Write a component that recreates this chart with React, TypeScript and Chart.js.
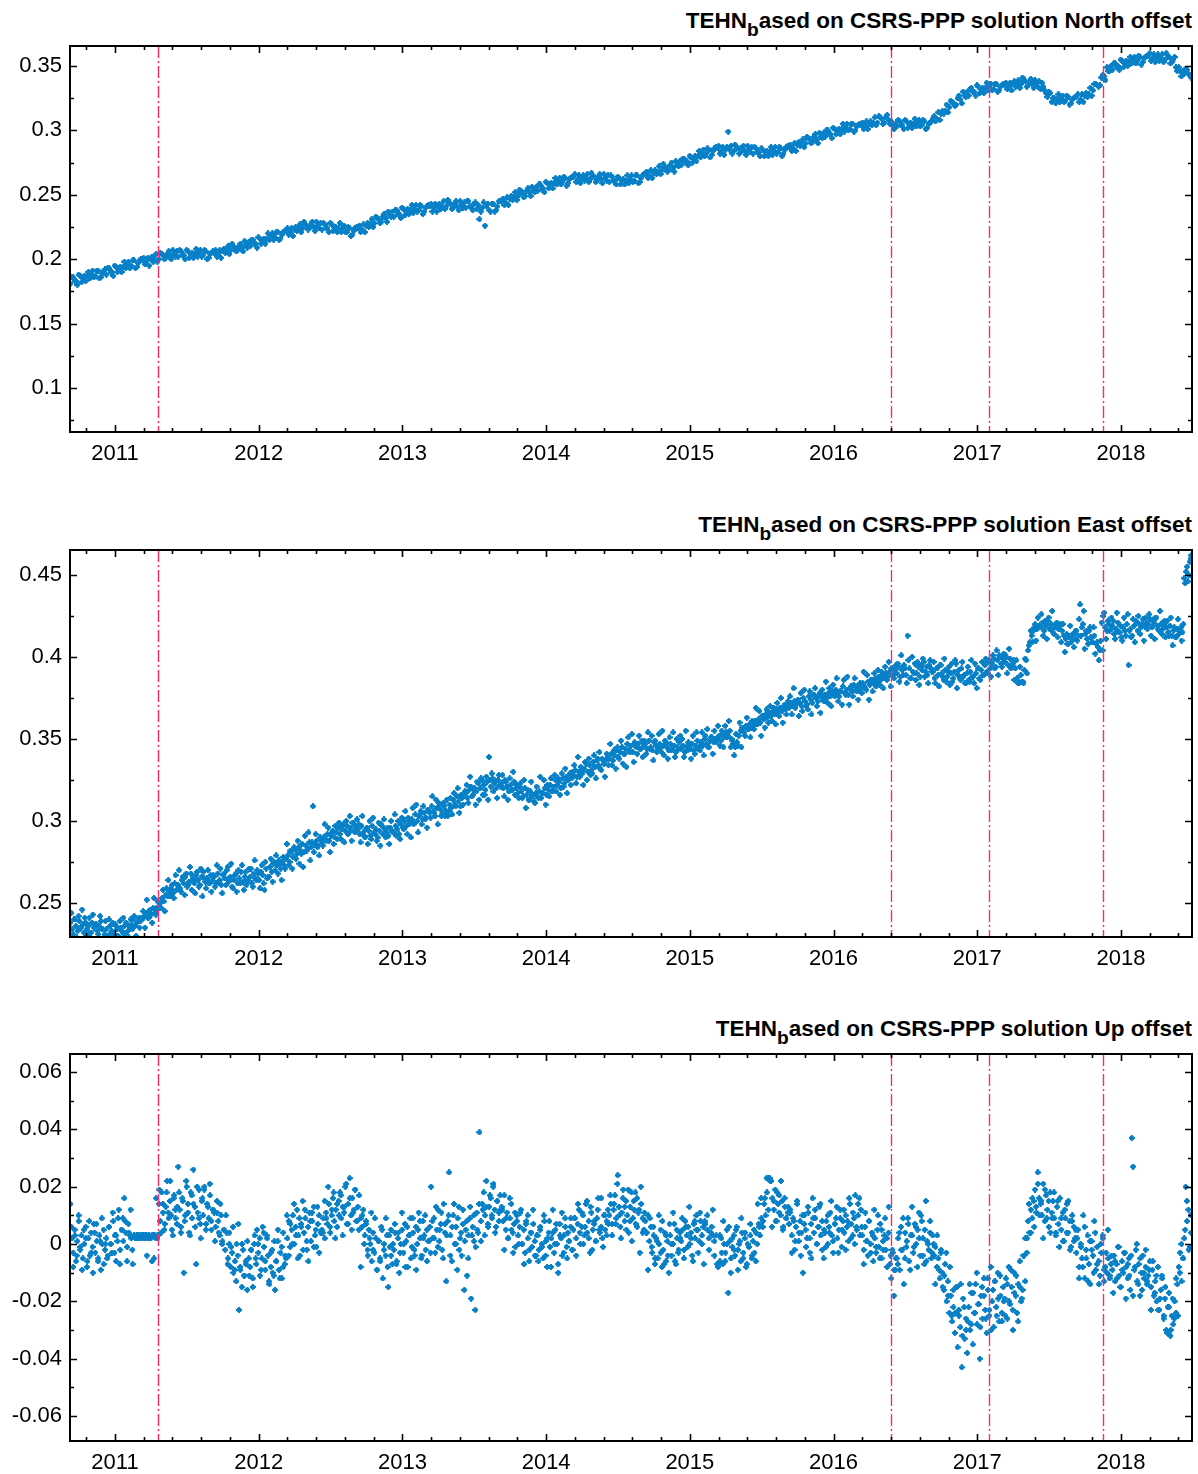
import React, { useEffect, useRef } from "react";
import { Chart, registerables } from "chart.js";

Chart.register(...registerables);

// ---------- axis / annotation data ----------
const X_MIN = 2010.687;
const X_MAX = 2018.494;
const YEAR_TICKS = [2011, 2012, 2013, 2014, 2015, 2016, 2017, 2018];
const EVENT_YEARS = [2011.3, 2016.4, 2017.08, 2017.875];
const START_YEAR = 2010.69; // first epoch of the series

const NORTH_TICKS = [0.1, 0.15, 0.2, 0.25, 0.3, 0.35];
const EAST_TICKS = [0.25, 0.3, 0.35, 0.4, 0.45];
const UP_TICKS = [-0.06, -0.04, -0.02, 0, 0.02, 0.04, 0.06];

type Rows = (number | null)[][];

// ---------- series values (millimetres), one row per quarter-year ----------
// North: 13 epochs per quarter
const NORTH_MM: Rows = [
  [181,186,183,188,182,187,187,185,191,187,191,186,191],
  [188,193,190,195,190,194,194,193,198,195,199,194,199],
  [199,196,201,200,198,204,200,204,200,204,203,207,202],
  [202,206,203,207,201,205,204,202,207,203,206,201,205],
  [205,202,207,206,205,210,207,210,206,210,209,214,209],
  [210,215,212,217,212,216,216,215,220,217,221,216,221],
  [222,219,224,223,222,227,224,227,223,227,225,229,224],
  [223,227,224,228,222,225,224,221,226,221,224,219,224],
  [224,221,227,226,225,231,228,232,228,233,232,237,233],
  [233,238,235,240,234,239,238,236,242,238,241,237,241],
  [241,237,243,241,239,245,241,244,239,243,241,245,240],
  [240,245,240,243,239,231,240,226,243,237,243,238,245],
  [245,242,248,247,246,252,249,252,248,253,252,256,252],
  [253,258,255,260,255,259,259,258,263,260,263,259,263],
  [264,260,265,263,261,266,262,265,260,264,262,266,261],
  [260,264,261,264,258,262,261,259,265,261,265,260,265],
  [266,263,269,267,266,272,269,272,268,273,271,276,272],
  [273,278,276,280,275,280,280,279,285,282,285,281,286],
  [286,282,287,285,299,288,284,287,282,286,284,288,283],
  [282,286,283,286,280,284,283,281,287,283,286,282,287],
  [287,284,290,289,288,293,290,294,290,295,293,298,294],
  [295,300,297,302,297,301,301,299,305,301,305,300,304],
  [304,301,307,305,304,310,306,310,305,310,308,307,301],
  [303,307,304,308,302,306,305,303,308,304,307,302,306],
  [309,307,314,313,313,320,318,322,319,325,324,330,326],
  [327,333,330,335,329,333,333,331,336,332,336,331,335],
  [335,332,337,336,334,339,336,339,334,338,336,339,334],
  [332,334,329,330,322,325,324,322,327,323,326,321,325],
  [326,322,328,327,326,333,331,336,334,341,342,349,346],
  [347,352,350,355,349,354,353,352,357,354,357,353,357],
  [358,354,359,357,354,359,355,358,352,355,349,349,342],
  [344,347,343],
];

// North, second set of epochs (13 per quarter, half a step later)
const NORTH_B_MM: Rows = [
  [186,183,180,187,185,183,190,188,186,191,185,189,192],
  [193,190,187,194,193,190,198,196,193,199,193,197,200],
  [201,198,195,202,200,198,205,203,201,206,200,204,206],
  [207,203,200,206,204,201,208,205,202,207,200,204,206],
  [207,204,201,208,207,204,212,209,207,212,206,211,213],
  [215,212,209,216,215,212,220,218,215,221,215,219,222],
  [224,221,218,225,224,221,229,226,224,229,222,226,228],
  [228,224,221,227,225,221,228,224,221,225,218,222,225],
  [226,223,221,228,227,225,233,231,229,235,229,234,237],
  [238,235,232,239,237,235,242,239,237,242,235,240,242],
  [243,240,237,243,241,239,246,243,240,245,238,242,244],
  [245,241,238,244,242,237,244,241,238,243,237,241,245],
  [247,244,242,249,248,246,254,251,249,255,249,253,256],
  [258,255,252,259,258,255,263,261,258,264,257,262,264],
  [266,262,259,265,263,260,267,264,261,266,259,263,265],
  [265,261,258,263,261,258,265,262,260,265,259,263,266],
  [268,265,263,269,268,266,274,271,269,275,268,273,276],
  [278,275,273,279,278,276,284,282,280,286,279,284,287],
  [288,284,281,287,285,282,289,286,283,288,281,285,287],
  [287,283,280,285,283,280,287,284,282,287,280,285,288],
  [289,286,284,291,290,287,295,293,291,297,290,295,298],
  [300,297,294,301,300,297,305,302,300,305,299,303,305],
  [306,303,301,307,306,304,311,309,306,312,305,304,305],
  [308,304,301,307,305,302,309,306,303,308,301,305,307],
  [311,309,308,315,315,314,323,321,320,327,321,327,330],
  [332,330,327,334,332,329,337,334,331,336,330,334,336],
  [337,334,331,338,336,333,341,338,335,340,333,336,338],
  [337,331,326,329,325,321,328,325,322,327,320,324,326],
  [328,324,322,329,328,327,336,335,335,343,339,346,350],
  [352,349,347,354,352,350,357,355,352,358,351,356,358],
  [360,356,353,359,356,353,360,357,353,357,346,346,346],
  [348,344,341],
];

// East: 20 epochs per quarter
const EAST_MM: Rows = [
  [238,234,240,236,233,239,235,237,241,234,236,232,238,235,237,233,236,239,234,231],
  [234,230,236,233,231,237,234,229,235,232,236,238,233,235,237,240,236,238,241,239],
  [240,242,244,241,245,243,247,244,246,248,250,253,251,255,254,257,259,256,262,258],
  [261,259,264,262,266,260,263,268,265,262,267,264,261,266,269,263,265,262,267,264],
  [266,262,268,264,261,267,265,270,263,266,260,264,268,262,265,269,263,266,261,264],
  [266,262,268,265,270,264,269,267,258,271,266,272,269,274,270,273,276,271,275,273],
  [277,279,275,281,278,283,280,284,282,286,281,285,283,287,284,309,286,288,285,290],
  [287,290,289,292,288,291,294,290,293,296,292,295,298,294,297,293,296,299,294,297],
  [295,292,297,293,290,296,294,291,297,293,295,290,294,298,292,295,293,291,296,294],
  [293,297,295,292,298,296,300,297,302,299,301,298,304,300,303,306,301,305,302,307],
  [305,309,306,303,308,311,307,304,309,306,303,310,308,313,310,315,312,309,314,316],
  [317,314,319,321,316,320,318,323,320,325,322,319,324,339,321,326,323,320,325,322],
  [323,320,325,321,318,322,319,324,320,317,321,318,315,320,316,313,318,315,312,317],
  [315,318,314,317,320,316,319,322,318,321,325,322,324,320,326,323,327,325,329,326],
  [328,331,327,330,333,329,332,335,330,334,331,336,333,337,334,332,338,335,337,339],
  [338,341,337,340,343,339,342,345,341,344,347,343,346,342,348,345,347,344,349,346],
  [347,344,349,345,343,348,346,344,347,342,346,349,345,343,347,344,346,342,345,348],
  [344,346,342,345,348,344,347,343,346,349,345,348,346,350,347,345,349,351,348,350],
  [350,352,349,353,351,354,352,355,350,347,345,348,352,355,357,354,358,356,359,357],
  [358,361,359,362,360,364,362,365,363,366,364,367,365,368,366,369,367,370,368,371],
  [369,372,370,373,371,374,372,370,375,373,371,376,374,372,377,375,373,378,376,374],
  [377,375,378,376,379,377,380,378,376,379,382,378,380,377,381,379,383,380,382,379],
  [381,384,382,380,385,383,386,384,387,385,388,386,389,387,390,388,391,393,389,392],
  [390,394,388,392,395,389,413,393,387,391,396,390,394,388,392,397,391,389,395,393],
  [391,387,393,389,395,390,386,392,388,394,390,385,391,396,389,387,393,388,384,390],
  [386,391,388,384,390,393,387,392,389,395,391,397,393,396,399,394,398,401,396,399],
  [397,400,395,399,394,398,393,387,384,389,385,392,398,404,409,413,416,420,417,419],
  [418,421,416,419,422,417,420,415,418,421,417,420,416,413,411,408,412,409,414,411],
  [416,413,432,418,428,414,411,416,412,409,413,408,406,404,421,425,418,416,420,417],
  [419,414,417,421,415,412,418,416,420,395,417,413,419,422,416,420,418,423,419,421],
  [420,423,418,421,424,419,416,420,417,422,418,415,419,413,416,412,417,414,418,415],
  [448,452,446,458,462],
];

// East, second set of epochs (20 per quarter, half a step later)
const EAST_B_MM: Rows = [
  [244,231,240,229,242,235,246,232,238,230,241,232,243,226,237,231,242,234,229,239],
  [229,240,232,238,226,236,230,239,233,241,231,237,229,240,234,242,230,239,235,241],
  [245,235,252,241,246,238,253,243,251,247,247,258,245,259,264,254,261,253,267,261],
  [270,257,266,255,268,261,272,258,264,256,269,260,271,254,265,259,270,262,257,267],
  [260,273,263,271,256,268,261,272,264,274,259,267,257,270,262,273,258,269,263,271],
  [271,260,276,264,268,259,273,262,275,265,266,277,263,275,279,268,274,264,278,271],
  [286,273,282,271,284,277,288,274,280,272,291,282,293,276,287,281,292,284,279,289],
  [285,298,288,296,281,293,286,297,289,299,289,297,287,300,292,303,288,299,293,301],
  [298,287,303,291,295,286,300,289,302,292,288,299,285,297,301,290,296,286,300,293],
  [304,291,300,289,302,295,306,292,298,290,308,299,310,293,304,298,309,301,296,306],
  [302,315,305,313,298,310,303,311,303,313,306,314,304,317,309,320,305,316,310,318],
  [322,311,327,315,319,310,324,313,326,316,316,327,313,325,329,318,324,314,328,321],
  [328,315,324,313,326,319,330,316,322,314,323,314,325,308,319,313,324,316,311,321],
  [314,327,317,325,310,322,315,326,318,328,318,326,316,329,321,332,317,328,322,330],
  [334,323,339,327,331,322,336,325,338,328,329,340,326,338,342,331,337,327,341,334],
  [347,334,343,332,345,338,349,335,341,333,351,342,353,336,347,341,352,344,339,349],
  [341,354,344,352,337,349,342,353,345,355,340,348,338,351,343,354,339,350,344,352],
  [350,339,355,343,347,338,352,341,354,344,343,354,340,352,356,345,351,341,355,348],
  [358,346,355,345,358,351,361,345,349,340,353,346,360,345,357,352,363,356,351,361],
  [356,369,359,367,352,364,357,368,360,370,361,369,359,372,364,375,360,371,365,373],
  [376,365,381,369,373,364,378,367,380,370,368,379,365,377,381,370,376,366,380,373],
  [385,372,381,370,383,376,387,373,379,371,386,377,388,371,382,376,387,379,374,384],
  [378,391,381,389,374,386,379,390,382,392,383,391,381,394,386,397,382,393,387,395],
  [396,385,401,389,393,384,398,387,400,390,386,397,383,395,399,388,394,384,398,391],
  [397,384,393,382,395,388,399,385,391,383,396,387,398,381,392,386,397,389,384,394],
  [385,398,388,396,381,393,386,397,389,399,390,398,388,401,393,404,389,400,394,402],
  [401,390,405,393,396,386,398,384,394,385,384,399,390,407,416,409,418,410,424,418],
  [426,413,422,411,424,417,428,414,420,412,418,409,420,403,414,408,419,411,406,416],
  [410,423,413,420,405,416,408,418,409,418,402,409,398,410,404,427,411,422,416,424],
  [422,411,427,415,419,410,424,413,426,416,412,423,409,421,425,414,420,410,424,417],
  [426,413,422,411,424,417,428,414,420,412,422,413,424,407,418,412,423,415,410,420],
  [445,455,450,460,449],
];

// Up: 26 epochs per quarter
const UP_MM: Rows = [
  [14,2,-3,5,-6,1,8,-2,3,-5,0,6,-8,2,-4,4,-1,7,-3,1,-6,3,-9,0,5,-2],
  [2,-4,6,0,-3,8,3,-6,1,12,-2,5,9,16,4,-1,7,3,2,-7,3,2,3,2,3,2],
  [3,2,3,3,2,3,2,-6,3,3,16,2,14,8,18,11,5,13,22,9,15,10,3,17,12,7],
  [27,12,6,16,-10,10,20,14,4,18,9,26,13,-7,11,19,7,15,10,20,5,14,9,17,8,12],
  [11,6,15,8,3,10,1,5,-2,4,-5,0,-8,-3,-10,-6,-13,-4,-23,-9,-15,-2,-11,-7,-16,-5],
  [-8,-2,-12,0,-5,5,-3,2,-9,6,-1,-6,3,-4,-14,-8,-2,-11,-16,-6,1,-9,-3,-12,4,-7],
  [-5,2,8,-1,5,10,0,6,12,3,-4,7,15,4,9,-2,6,11,1,8,13,3,-1,7,10,4],
  [5,9,2,11,7,14,4,10,16,8,12,6,15,18,9,13,11,20,7,14,23,10,16,12,19,8],
  [13,17,9,6,12,3,8,-2,5,0,-6,4,-3,2,-9,1,-5,6,-12,0,-4,3,-15,-1,5,-7],
  [-2,4,-6,2,-10,0,5,-3,7,1,-8,3,9,-1,4,-4,6,0,11,2,-5,8,3,-2,5,1],
  [6,20,2,9,-3,5,12,1,7,-2,14,4,-13,8,25,3,-6,10,0,6,-9,13,2,-4,7,-16],
  [5,-11,3,9,-19,6,1,-23,11,4,39,8,14,18,10,22,7,13,16,9,20,12,6,15,11,17],
  [13,8,17,5,11,2,9,14,4,7,-1,10,3,6,12,0,5,-3,8,2,-6,4,-1,7,1,-4],
  [3,-2,6,0,-5,8,1,-8,4,-1,2,12,-3,5,0,-10,7,2,-4,3,9,-1,4,1,6,-2],
  [5,9,2,7,12,0,6,10,3,14,4,8,-3,11,5,7,1,9,16,4,6,2,10,5,8,12],
  [10,14,7,12,17,9,24,13,6,11,19,8,15,10,4,13,18,9,12,7,16,11,-3,14,9,5],
  [8,4,10,1,6,-3,3,-7,2,-5,0,5,-8,-2,4,-6,1,-10,3,-4,0,7,-7,2,-3,4],
  [1,5,-2,8,3,6,0,4,-4,7,2,10,5,1,8,3,6,8,null,5,2,null,6,3,1,null],
  [-7,-7,-6,2,-7,0,-3,5,-17,1,-5,-1,3,-4,6,-2,0,-6,4,-3,2,-8,0,-1,3,-5],
  [1,-3,4,0,7,3,9,6,14,10,18,23,23,22,16,12,19,8,14,17,10,15,6,13,9,11],
  [7,12,3,9,-2,6,14,1,8,4,-10,10,5,2,11,-3,7,16,4,9,0,6,13,3,8,-5],
  [4,8,0,6,11,3,-3,7,9,2,5,12,-1,8,4,10,6,1,14,7,3,9,17,5,10,16],
  [12,3,-2,6,1,-4,8,0,4,-6,2,-3,5,-1,7,-5,1,3,-2,-8,4,-7,-12,-3,-18,-9],
  [-5,2,-9,6,-2,-14,4,-1,9,-6,3,13,-3,7,0,5,11,-4,8,2,-7,15,1,-2,4,-5],
  [3,-4,-1,-8,-5,-12,-2,-10,-16,-7,-20,-13,-24,-18,-27,-22,-31,-15,-36,-25,-29,-43,-19,-33,-26,-38],
  [-22,-30,-17,-35,-24,-14,-28,-21,-40,-18,-26,-12,-23,-31,-16,-25,-8,-20,-29,-13,-22,-10,-27,-18,-24,-15],
  [-19,-12,-26,-8,-21,-15,-30,-10,-18,-24,-14,-6,-20,-16,-4,2,-3,8,4,12,9,15,19,11,25,16],
  [14,10,21,8,17,12,6,18,11,15,9,3,13,7,16,5,11,1,9,14,4,8,-1,10,6,2],
  [-3,5,-8,0,-5,10,-12,-2,3,-7,-14,1,-4,8,-9,-1,-6,-11,-3,2,-13,-8,-10,-5,-12,-7],
  [-9,-4,-13,-7,-1,-11,-15,-6,-10,-3,-8,-12,-5,-16,37,27,-9,-2,-13,-7,-18,-10,-4,-12,-8,-14],
  [-11,-6,-15,-9,-18,-13,-20,-8,-23,-16,-12,-26,-19,-30,-22,-17,-32,-25,-28,-20,-24,-14,-8,-3,0,-5],
  [2,20,8,12,-1,4],
];

// Up, second set of epochs (20 per quarter, half a step later)
const UP_B_MM: Rows = [
  [6,-8,3,-4,10,-1,-9,5,2,-6,8,-3,-10,4,7,-5,1,9,-7,0],
  [-5,6,0,11,-3,3,9,-7,5,1,8,-6,4,12,-2,3,2,3,2,3],
  [3,2,-4,3,2,3,-5,2,3,19,4,14,7,18,11,22,5,16,9,13],
  [18,4,15,8,22,11,3,17,14,6,20,9,2,16,19,7,13,21,5,12],
  [1,11,4,14,0,5,10,-7,4,-1,6,-9,0,7,-8,0,-11,-6,1,-11],
  [-2,-15,3,-7,0,-11,-5,4,-9,2,-13,-3,-10,1,-6,5,-12,-1,-8,-4],
  [10,-4,7,0,14,3,-5,9,6,-2,12,1,-6,8,11,-1,5,13,-3,4],
  [4,15,9,20,6,12,18,2,14,10,17,3,13,21,7,16,5,11,19,8],
  [5,-8,10,0,7,-4,2,11,-2,9,-9,1,-6,5,-2,9,-8,3,-4,0],
  [7,-7,4,-3,11,0,-8,6,3,-5,9,-2,-9,5,8,-4,2,10,-6,1],
  [-3,8,2,13,-1,5,11,-5,7,3,10,-4,6,14,0,9,-2,4,12,1],
  [8,-5,13,3,10,-1,5,14,1,12,3,13,6,17,10,21,4,15,8,12],
  [12,-2,9,2,16,5,-3,11,8,0,11,0,-7,7,10,-2,4,12,-4,3],
  [-6,5,-1,10,-4,2,8,-8,4,0,7,-7,3,11,-3,6,-5,1,9,-2],
  [9,-4,14,4,11,0,6,15,2,13,-2,8,1,12,5,16,-1,10,3,7],
  [17,3,14,7,21,10,2,16,13,5,19,8,1,15,18,6,12,20,4,11],
  [4,-9,9,-1,6,-5,1,10,-3,8,-7,3,-4,7,0,11,-6,5,-2,2],
  [9,-5,6,-1,13,2,-6,8,5,-3,11,0,-7,7,10,-2,4,12,-4,3],
  [-8,3,-3,8,-6,0,6,-10,2,-2,5,-9,1,9,-5,4,-7,-1,7,-4],
  [5,-6,14,6,16,8,16,23,12,22,6,15,8,18,11,22,5,16,9,13],
  [11,-3,8,1,15,4,-4,10,7,-1,13,2,-5,9,12,0,6,14,-2,5],
  [-1,10,4,15,1,7,13,-3,9,5,12,-2,8,16,2,11,0,6,14,3],
  [6,-7,11,1,8,-3,3,12,-1,10,-5,5,-2,9,2,13,-4,-2,-9,-5],
  [-7,4,-2,9,-5,1,7,-9,3,-1,6,-8,2,10,-4,5,-6,0,8,-3],
  [0,-14,3,-9,-3,-15,-11,-3,-18,-8,-25,-16,-24,-15,-23,-14,-32,-22,-30,-27],
  [-14,-28,-17,-24,-10,-21,-29,-15,-18,-26,-12,-23,-30,-16,-13,-25,-19,-11,-27,-20],
  [-25,-14,-20,-9,-23,-17,-11,-27,-15,-19,-4,-13,2,14,4,16,6,13,21,10],
  [15,2,19,9,15,4,9,18,4,15,-1,9,1,12,4,15,-2,8,1,5],
  [2,-12,-1,-8,6,-5,-13,1,-2,-10,4,-7,-14,0,3,-9,-3,5,-11,-4],
  [-17,-6,-12,-1,-15,-9,-3,-19,-7,-11,-4,-18,-8,0,-14,-5,-16,-10,-2,-13],
  [-9,-23,-6,-17,-11,-23,-19,-11,-25,-15,-31,-22,-30,-19,-26,-12,-25,-10,-13,-5],
  [5,15,-2,10],
];

// ---------- styling ----------
const BLUE = "#0880c8";
const RED = "#ff2a68";
const FONT_FAMILY = "'Liberation Sans', Arial, Helvetica, sans-serif";

type Series = { rows: Rows; perQuarter: number; offset: number };
type PanelDef = {
  component: string;
  series: Series[];
  yMin: number;
  yMax: number;
  yTicks: number[];
  plotTop: number;
  plotBottom: number;
};

const PANELS: PanelDef[] = [
  {
    component: "North",
    series: [
      { rows: NORTH_MM, perQuarter: 13, offset: 0 },
      { rows: NORTH_B_MM, perQuarter: 13, offset: 0.5 },
    ],
    yMin: 0.0658, yMax: 0.3655, yTicks: NORTH_TICKS, plotTop: 46, plotBottom: 432,
  },
  {
    component: "East",
    series: [
      { rows: EAST_MM, perQuarter: 20, offset: 0 },
      { rows: EAST_B_MM, perQuarter: 20, offset: 0.5 },
    ],
    yMin: 0.2293, yMax: 0.4652, yTicks: EAST_TICKS, plotTop: 550, plotBottom: 937,
  },
  {
    component: "Up",
    series: [
      { rows: UP_MM, perQuarter: 26, offset: 0 },
      { rows: UP_B_MM, perQuarter: 20, offset: 0.5 },
    ],
    yMin: -0.0687, yMax: 0.0663, yTicks: UP_TICKS, plotTop: 1054, plotBottom: 1441,
  },
];

const PAD_TOP = 10;
const X_AXIS_H = 40;
const Y_AXIS_W = 70;

function toPoints(s: Series) {
  const pts: { x: number; y: number }[] = [];
  s.rows.forEach((row, r) => {
    row.forEach((v, i) => {
      if (v === null) return;
      pts.push({ x: START_YEAR + r * 0.25 + ((i + s.offset) * 0.25) / s.perQuarter, y: v / 1000 });
    });
  });
  return pts;
}

function makeMarker(): HTMLCanvasElement {
  const c = document.createElement("canvas");
  c.width = 6;
  c.height = 6;
  const g = c.getContext("2d")!;
  g.fillStyle = BLUE;
  g.fillRect(2, 0, 2, 6);
  g.fillRect(0, 2, 6, 2);
  g.fillRect(1, 1, 4, 4);
  return c;
}

function fmt(v: number) {
  return String(+v.toFixed(3));
}

const decorPlugin = {
  id: "decor",
  afterDatasetsDraw(chart: any) {
    const { ctx, chartArea: a, scales } = chart;
    const x = scales.x;
    ctx.save();
    ctx.strokeStyle = RED;
    ctx.lineWidth = 1.4;
    ctx.setLineDash([12, 3, 2, 3]);
    EVENT_YEARS.forEach((yr) => {
      const px = Math.round(x.getPixelForValue(yr)) + 0.5;
      ctx.beginPath();
      ctx.moveTo(px, a.top);
      ctx.lineTo(px, a.bottom);
      ctx.stroke();
    });
    ctx.restore();
  },
  afterDraw(chart: any) {
    const { ctx, chartArea: a, scales } = chart;
    const x = scales.x;
    const y = scales.y;
    ctx.save();
    ctx.strokeStyle = "#000";
    ctx.lineWidth = 1.6;
    const drawX = (val: number, len: number) => {
      const px = Math.round(x.getPixelForValue(val)) + 0.5;
      if (px < a.left || px > a.right) return;
      ctx.beginPath();
      ctx.moveTo(px, a.bottom);
      ctx.lineTo(px, a.bottom - len);
      ctx.moveTo(px, a.top);
      ctx.lineTo(px, a.top + len);
      ctx.stroke();
    };
    for (let k = Math.ceil(X_MIN * 5); k <= Math.floor(X_MAX * 5); k++) {
      drawX(k / 5, k % 5 === 0 ? 7 : 4);
    }
    const yt: number[] = chart.options.plugins.decor.yTicks;
    const step = yt[1] - yt[0];
    const drawY = (val: number, len: number) => {
      const py = Math.round(y.getPixelForValue(val)) + 0.5;
      if (py < a.top || py > a.bottom) return;
      ctx.beginPath();
      ctx.moveTo(a.left, py);
      ctx.lineTo(a.left + len, py);
      ctx.moveTo(a.right, py);
      ctx.lineTo(a.right - len, py);
      ctx.stroke();
    };
    yt.forEach((t) => drawY(t, 7));
    for (let t = yt[0] - step / 2; t <= yt[yt.length - 1] + step / 2 + 1e-9; t += step) {
      drawY(t, 4);
    }
    ctx.lineWidth = 2;
    ctx.strokeRect(a.left, a.top, a.right - a.left, a.bottom - a.top);
    ctx.restore();
  },
};

function Panel({ def }: { def: PanelDef }) {
  const ref = useRef<HTMLCanvasElement | null>(null);
  const top = def.plotTop - PAD_TOP;
  const height = def.plotBottom + X_AXIS_H - top;

  useEffect(() => {
    if (!ref.current) return;
    const marker = makeMarker();
    const tickFont = { family: FONT_FAMILY, size: 22 };
    const chart = new Chart(ref.current, {
      type: "scatter",
      data: {
        datasets: def.series.map((s) => ({
          data: toPoints(s),
          pointStyle: marker as any,
          pointRadius: 3,
          pointHoverRadius: 3,
          backgroundColor: BLUE,
          borderColor: BLUE,
          borderWidth: 0,
        })),
      },
      options: {
        animation: false,
        responsive: false,
        events: [],
        layout: { padding: { top: PAD_TOP, right: 6, left: 0, bottom: 0 } },
        plugins: {
          legend: { display: false },
          tooltip: { enabled: false },
          title: { display: false },
          decor: { yTicks: def.yTicks },
        } as any,
        scales: {
          x: {
            type: "linear",
            min: X_MIN,
            max: X_MAX,
            grid: { display: false, drawTicks: false },
            border: { display: false },
            ticks: {
              font: tickFont,
              color: "#000",
              padding: 9,
              maxRotation: 0,
              autoSkip: false,
              callback: (v: any) => String(v),
            },
            afterBuildTicks: (s: any) => {
              s.ticks = YEAR_TICKS.map((v) => ({ value: v }));
            },
            afterFit: (s: any) => {
              s.height = X_AXIS_H;
              s.paddingLeft = 0;
              s.paddingRight = 0;
            },
          },
          y: {
            type: "linear",
            min: def.yMin,
            max: def.yMax,
            grid: { display: false, drawTicks: false },
            border: { display: false },
            ticks: {
              font: tickFont,
              color: "#000",
              padding: 8,
              autoSkip: false,
              callback: (v: any) => fmt(Number(v)),
            },
            afterBuildTicks: (s: any) => {
              s.ticks = def.yTicks.map((v) => ({ value: v }));
            },
            afterFit: (s: any) => {
              s.width = Y_AXIS_W;
              s.paddingTop = 0;
              s.paddingBottom = 0;
            },
          },
        },
      } as any,
      plugins: [decorPlugin as any],
    });
    return () => chart.destroy();
  }, [def]);

  return (
    <>
      <div
        style={{
          position: "absolute",
          right: 6,
          top: def.plotTop - 36,
          fontFamily: FONT_FAMILY,
          fontWeight: "bold",
          fontSize: 22.5,
          lineHeight: "22px",
          whiteSpace: "nowrap",
          color: "#000",
        }}
      >
        TEHN
        <span style={{ fontSize: "0.85em", position: "relative", top: "0.42em", lineHeight: 0 }}>b</span>
        {`ased on CSRS-PPP solution ${def.component} offset`}
      </div>
      <canvas
        ref={ref}
        width={1198}
        height={height}
        style={{ position: "absolute", left: 0, top, width: 1198, height }}
      />
    </>
  );
}

export default function App() {
  return (
    <div style={{ position: "absolute", left: 0, top: 0, width: 1198, height: 1474, background: "#fff" }}>
      {PANELS.map((p) => (
        <Panel key={p.component} def={p} />
      ))}
    </div>
  );
}
